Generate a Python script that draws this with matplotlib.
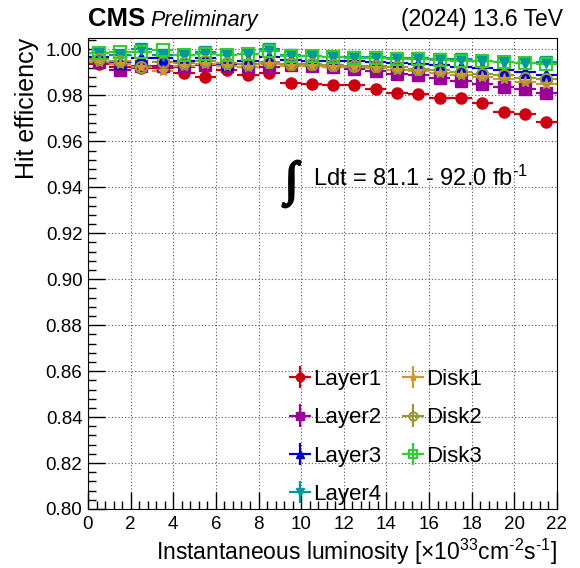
"""Pixel hit efficiency vs instantaneous luminosity (CMS style)."""

import matplotlib
matplotlib.use("Agg")
import matplotlib.pyplot as plt
import matplotlib.patheffects as pe
import numpy as np
from matplotlib.ticker import MultipleLocator

plt.rcParams["font.family"] = ["Liberation Sans", "DejaVu Sans"]
plt.rcParams["mathtext.fontset"] = "custom"
plt.rcParams["mathtext.rm"] = "Liberation Sans"
plt.rcParams["mathtext.it"] = "Liberation Sans:italic"
plt.rcParams["mathtext.bf"] = "Liberation Sans:bold"

# Bin centres [x10^33 cm^-2 s^-1], width 1
lumi = np.arange(0.5, 22, 1.0)

layer1 = [0.9935, 0.9925, 0.9919, 0.9918, 0.9896, 0.9881, 0.9909, 0.9891,
          0.9896, 0.9855, 0.9850, 0.9846, 0.9846, 0.9827, 0.9811, 0.9807,
          0.9788, 0.9788, 0.9765, 0.9729, 0.9720, 0.9683]
layer2 = [0.9946, 0.9910, 0.9930, 0.9928, 0.9922, 0.9933, 0.9928, 0.9922,
          0.9925, 0.9933, 0.9927, 0.9922, 0.9914, 0.9905, 0.9895, 0.9889,
          0.9874, 0.9862, 0.9850, 0.9836, 0.9826, 0.9811]
layer3 = [0.9968, 0.9942, 0.9964, 0.9961, 0.9952, 0.9961, 0.9937, 0.9950,
          0.9968, 0.9955, 0.9952, 0.9949, 0.9948, 0.9944, 0.9940, 0.9935,
          0.9931, 0.9925, 0.9918, 0.9909, 0.9900, 0.9889]
layer4 = [0.9985, 0.9975, 1.0000, 0.9975, 0.9978, 0.9990, 0.9975, 0.9980,
          1.0000, 0.9975, 0.9971, 0.9968, 0.9968, 0.9966, 0.9965, 0.9965,
          0.9958, 0.9957, 0.9952, 0.9946, 0.9942, 0.9946]
disk1 = [0.9945, 0.9935, 0.9925, 0.9908, 0.9930, 0.9935, 0.9930, 0.9925,
         0.9935, 0.9930, 0.9928, 0.9925, 0.9922, 0.9918, 0.9912, 0.9905,
         0.9898, 0.9890, 0.9880, 0.9870, 0.9857, 0.9848]
disk2 = [0.9960, 0.9950, 0.9922, 0.9945, 0.9940, 0.9950, 0.9940, 0.9935,
         0.9945, 0.9938, 0.9936, 0.9934, 0.9930, 0.9926, 0.9922, 0.9915,
         0.9909, 0.9902, 0.9895, 0.9887, 0.9878, 0.9870]
disk3 = [0.9985, 0.9990, 0.9990, 0.9997, 0.9978, 0.9980, 0.9975, 0.9981,
         0.9992, 0.9972, 0.9970, 0.9966, 0.9964, 0.9962, 0.9960, 0.9957,
         0.9954, 0.9952, 0.9948, 0.9944, 0.9940, 0.9937]

labels = ["Layer1", "Layer2", "Layer3", "Layer4", "Disk1", "Disk2", "Disk3"]
series = [layer1, layer2, layer3, layer4, disk1, disk2, disk3]
colors = ["#cc0011", "#990099", "#0000cc", "#009999",
          "#cc9933", "#999933", "#33cc33"]
markers = ["o", "s", "^", "v", "*", "o", "s"]
filled = [True, True, True, True, True, False, False]

fig = plt.figure(figsize=(5.8, 5.68), dpi=100)
ax = fig.add_axes([0.1517, 0.1039, 0.8086, 0.8292])

handles = []
for y, lab, c, m, f in zip(series, labels, colors, markers, filled):
    h = ax.errorbar(lumi, y, xerr=0.5, yerr=0.0004, fmt=m, color=c,
                    ecolor=c, elinewidth=1.6, capsize=0, markersize=8,
                    markerfacecolor=c if f else "none", markeredgecolor=c,
                    markeredgewidth=1.5 if not f else 1.0, label=lab)
    handles.append(h)

ax.set_xlim(0, 22)
ax.set_ylim(0.80, 1.005)
ax.xaxis.set_major_locator(MultipleLocator(2))
ax.xaxis.set_minor_locator(MultipleLocator(0.4))
ax.yaxis.set_major_locator(MultipleLocator(0.02))
ax.yaxis.set_minor_locator(MultipleLocator(0.004))
ax.yaxis.set_major_formatter(plt.FormatStrFormatter("%.2f"))
ax.tick_params(which="both", direction="in", labelsize=13.5,
               top=False, right=False)
ax.tick_params(which="major", length=12, width=1)
ax.tick_params(which="minor", length=6, width=1)
ax.tick_params(axis="x", pad=5)
ax.tick_params(axis="y", pad=4)
ax.grid(True, which="major", linestyle=(0, (1, 2)), color="#555555",
        linewidth=0.8)
ax.set_axisbelow(True)

ax.set_xlabel(r"Instantaneous luminosity [$\times10^{33}$cm$^{\text{-}2}$s$^{\text{-}1}$]",
              fontsize=16.5, loc="right", labelpad=3)
ax.set_ylabel("Hit efficiency", fontsize=18, loc="top", labelpad=5)

fig.text(0.1517, 0.955, "CMS", fontsize=18.5, fontweight="bold",
         ha="left", va="baseline")
fig.text(0.259, 0.955, "Preliminary", fontsize=15.5, style="italic",
         ha="left", va="baseline")
fig.text(0.97, 0.955, "(2024) 13.6 TeV", fontsize=16.5,
         ha="right", va="baseline")

ax.text(9.55, 0.9414, "\u222b", fontsize=34, ha="center", va="center",
        family="Liberation Serif", fontweight="bold",
        path_effects=[pe.withStroke(linewidth=1.8, foreground="black")])
ax.text(10.55, 0.9406, r"Ldt = 81.1 - 92.0 fb$^{\text{-}1}$", fontsize=17,
        ha="left", va="baseline")

ax.legend(handles=handles, ncol=2, frameon=False, fontsize=16,
          loc="upper left", bbox_to_anchor=(0.41, 0.316),
          handlelength=1.0, handletextpad=0.1, columnspacing=0.9,
          labelspacing=0.78, borderaxespad=0, markerscale=0.75)

fig.savefig("out.png", dpi=100)
